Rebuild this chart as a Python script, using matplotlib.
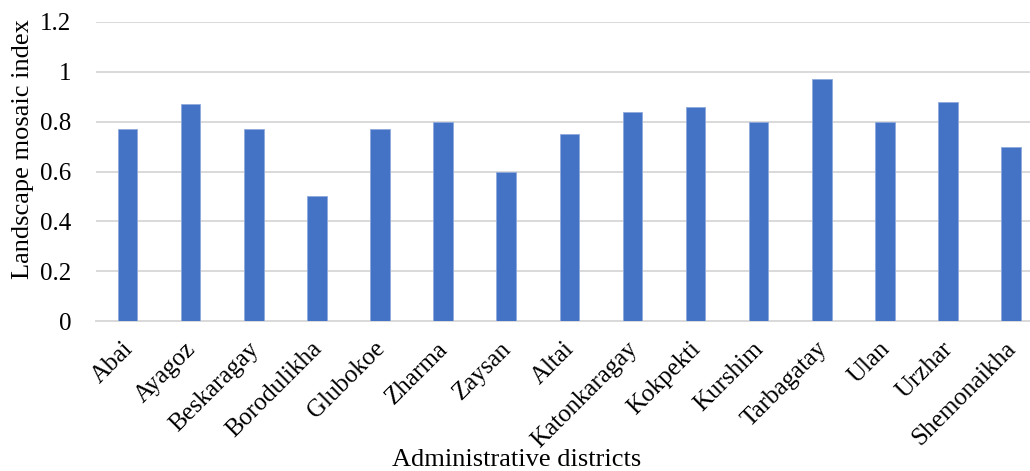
import numpy as np
import matplotlib.pyplot as plt
import matplotlib.transforms as mtransforms

plt.rcParams['font.family'] = ['Liberation Serif', 'DejaVu Serif']

# datos
districts = ["Abai", "Ayagoz", "Beskaragay", "Borodulikha", "Glubokoe", "Zharma",
             "Zaysan", "Altai", "Katonkaragay", "Kokpekti", "Kurshim", "Tarbagatay",
             "Ulan", "Urzhar", "Shemonaikha"]
mosaic = [0.77, 0.87, 0.77, 0.50, 0.77, 0.80, 0.60, 0.75, 0.84, 0.86, 0.80, 0.97,
          0.80, 0.88, 0.70]
yticks = [0, 0.2, 0.4, 0.6, 0.8, 1.0, 1.2]
yticklabels = ["0", "0.2", "0.4", "0.6", "0.8", "1", "1.2"]

fig = plt.figure(figsize=(10.3, 4.71), dpi=100)
ax = fig.add_axes([96/1030, 150/471, (1030-96)/1030, 299/471])

x = np.arange(len(districts))
ax.bar(x, mosaic, width=0.31, color="#4472C4", edgecolor="#8FAADC", linewidth=0.6, zorder=3)

ax.set_xlim(-0.5, 14.3)
ax.set_ylim(0, 1.2)
ax.set_yticks(yticks)
ax.set_yticklabels(yticklabels, fontsize=18)
ax.set_xticks(x)
ax.set_xticklabels(districts, rotation=45, ha="right", rotation_mode="anchor", fontsize=18)
ax.tick_params(axis="both", length=0)
ax.tick_params(axis="y", pad=18)
ax.tick_params(axis="x", pad=12)

# correr un poco las etiquetas a la izquierda
shift = mtransforms.ScaledTranslation(-6/100, 0, fig.dpi_scale_trans)
for lab in ax.get_xticklabels():
    lab.set_transform(lab.get_transform() + shift)

ax.grid(axis="y", color="#D9D9D9", linewidth=1.4, zorder=0)
for s in ["top", "right", "left"]:
    ax.spines[s].set_visible(False)
ax.spines["bottom"].set_color("#D9D9D9")
ax.spines["bottom"].set_linewidth(1.4)

# titulos de ejes
fig.text(23/1030, 1 - 149/471, "Landscape mosaic index", fontsize=19, rotation=90,
         ha="center", va="center")
fig.text(517/1030, 1 - 460/471, "Administrative districts", fontsize=19, ha="center", va="center")

fig.savefig("out.png", dpi=100)
